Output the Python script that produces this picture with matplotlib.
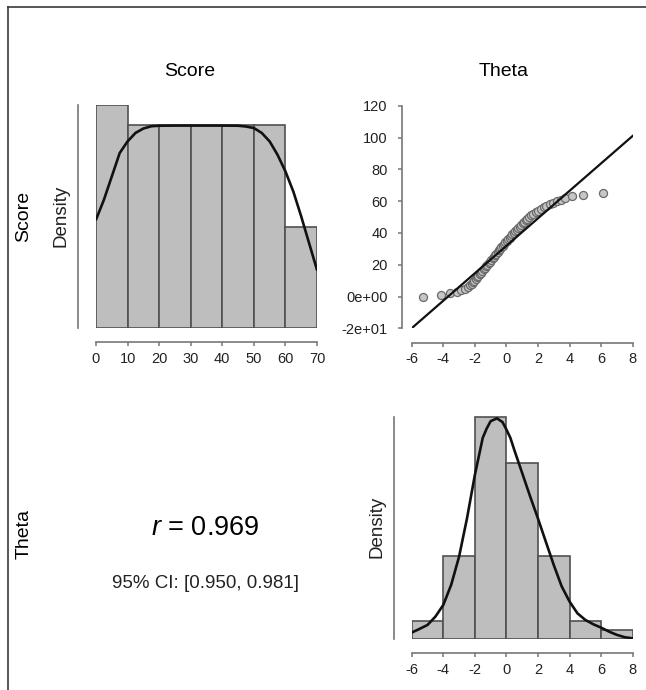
import numpy as np
import matplotlib
matplotlib.use("Agg")
import matplotlib.pyplot as plt
from matplotlib.lines import Line2D

plt.rcParams['font.family'] = ['Liberation Sans', 'DejaVu Sans']
plt.rcParams['axes.unicode_minus'] = False
plt.rcParams['mathtext.fontset'] = 'custom'
plt.rcParams['mathtext.rm'] = 'Liberation Sans'
plt.rcParams['mathtext.it'] = 'Liberation Sans:italic'

# ---------------- data ----------------
n_obs = 66
score_edges = [0, 10, 20, 30, 40, 50, 60, 70]
score_counts = [11, 10, 10, 10, 10, 10, 5]
score_curve_x = [0, 2.5, 5, 7.5, 10, 12.5, 15, 17.5, 20, 25, 30, 35, 40, 45,
                 47.5, 50, 52.5, 55, 57.5, 60, 62.5, 65, 67.5, 70]
score_curve_y = [0.00811, 0.00959, 0.01133, 0.01308, 0.01395, 0.01458, 0.01491,
                 0.01508, 0.01512, 0.01513, 0.01513, 0.01513, 0.01513, 0.01512,
                 0.01506, 0.01495, 0.01458, 0.01395, 0.01295, 0.01171, 0.01021,
                 0.00835, 0.00635, 0.00436]

theta_edges = [-6, -4, -2, 0, 2, 4, 6, 8]
theta_counts = [2, 9, 24, 19, 9, 2, 1]
theta_curve_x = [-6, -5.5, -5, -4.5, -4, -3.5, -3, -2.5, -2, -1.5, -1.25, -1, -0.6,
                 -0.25, 0, 0.25, 0.5, 1, 1.5, 2, 2.5, 3, 3.5, 4, 4.5, 5, 5.5, 6,
                 6.5, 7, 7.5, 8]
theta_curve_y = [0.0055, 0.0085, 0.0117, 0.0185, 0.0280, 0.0444, 0.0674, 0.0985,
                 0.1340, 0.1644, 0.1720, 0.1780, 0.1803, 0.1773, 0.1712, 0.1644,
                 0.1545, 0.1356, 0.1167, 0.0985, 0.0795, 0.0606, 0.0432, 0.0308,
                 0.0212, 0.0158, 0.0123, 0.0095, 0.0063, 0.0036, 0.0017, 0.0008]

score_values = [0, 1, 2, 3, 4, 5, 6, 7, 8, 9, 10, 11, 12, 13, 14, 15, 16, 17, 18,
                19, 20, 21, 22, 23, 24, 25, 26, 27, 28, 29, 30, 31, 32, 33, 34, 35,
                36, 37, 38, 39, 40, 41, 42, 43, 44, 45, 46, 47, 48, 49, 50, 51, 52,
                53, 54, 55, 56, 57, 58, 59, 60, 61, 62, 63, 64, 65]
theta_values = [-5.27, -4.14, -3.57, -3.15, -2.85, -2.62, -2.45, -2.31, -2.19, -2.10,
                -2.03, -1.95, -1.86, -1.77, -1.68, -1.60, -1.52, -1.44, -1.36, -1.28,
                -1.20, -1.12, -1.04, -0.96, -0.88, -0.80, -0.72, -0.64, -0.56, -0.48,
                -0.40, -0.32, -0.24, -0.16, -0.08, 0.02, 0.11, 0.20, 0.29, 0.38,
                0.47, 0.56, 0.65, 0.74, 0.83, 0.92, 1.02, 1.12, 1.22, 1.33,
                1.44, 1.56, 1.70, 1.85, 2.02, 2.18, 2.35, 2.53, 2.73, 2.95,
                3.18, 3.43, 3.72, 4.13, 4.87, 6.14]
fit_intercept = 31.9
fit_slope = 8.64

qq_yticks = [-20, 0, 20, 40, 60, 80, 100, 120]
qq_yticklabels = ['-2e+01', '0e+00', '20', '40', '60', '80', '100', '120']
theta_ticks = [-6, -4, -2, 0, 2, 4, 6, 8]
score_ticks = [0, 10, 20, 30, 40, 50, 60, 70]

r_text = r'$r$ = 0.969'
ci_text = '95% CI: [0.950, 0.981]'
var_names = ['Score', 'Theta']

# ---------------- layout ----------------
W, H = 646, 690
PT = 0.72  # points per pixel at dpi 100
fig = plt.figure(figsize=(W / 100, H / 100), dpi=100)


def ax_rect(left, right, top, bottom):
    return [left / W, 1 - bottom / H, (right - left) / W, (bottom - top) / H]


def fxy(x, y):
    return x / W, 1 - y / H


axis_col = '#777777'
tick_col = '#222222'
bar_fill = '#bebebe'
bar_edge = '#505050'


def style_axis(ax, left_off, bottom_off, xb, yb, left_ticks):
    for s in ['top', 'right']:
        ax.spines[s].set_visible(False)
    ax.spines['left'].set_position(('outward', left_off * PT))
    ax.spines['bottom'].set_position(('outward', bottom_off * PT))
    ax.spines['left'].set_bounds(*yb)
    ax.spines['bottom'].set_bounds(*xb)
    for s in ['left', 'bottom']:
        ax.spines[s].set_color(axis_col)
        ax.spines[s].set_linewidth(1.2)
    ax.tick_params(axis='both', direction='out', length=3.2, width=1.1,
                   color=axis_col, labelcolor=tick_col, labelsize=10.5, pad=4)
    if not left_ticks:
        ax.tick_params(axis='y', left=False, labelleft=False)
    ax.patch.set_visible(False)


def density_hist(ax, edges, counts, cx, cy):
    widths = np.diff(edges)
    dens = np.array(counts) / (n_obs * widths)
    ax.bar(edges[:-1], dens, width=widths, align='edge', color=bar_fill,
           edgecolor=bar_edge, linewidth=1.2)
    ax.plot(cx, cy, color='#111111', lw=1.9, solid_capstyle='round',
            solid_joinstyle='round')
    return dens.max()


# Top-left: Score histogram
ax1 = fig.add_axes(ax_rect(96, 317, 105, 328.3))
ymax1 = density_hist(ax1, score_edges, score_counts, score_curve_x, score_curve_y)
ax1.set_xlim(score_edges[0], score_edges[-1])
ax1.set_ylim(0, ymax1)
ax1.set_xticks(score_ticks)
style_axis(ax1, 18, 13.4, (score_edges[0], score_edges[-1]), (0, ymax1), False)

# Top-right: scatter Theta vs Score
ax2 = fig.add_axes(ax_rect(411.7, 632.7, 105.7, 328.3))
ax2.plot(theta_values, score_values, linestyle='none', marker='o', markersize=5.8,
         markerfacecolor='#c6c6c6', markeredgecolor='#6a6a6a', markeredgewidth=0.9)
ax2.axline((0, fit_intercept), slope=fit_slope, color='#111111', lw=1.6)
ax2.set_xlim(-6, 8)
ax2.set_ylim(-20, 120)
ax2.set_xticks(theta_ticks)
ax2.set_xticklabels([str(t) for t in theta_ticks])
ax2.set_yticks(qq_yticks)
ax2.set_yticklabels(qq_yticklabels)
style_axis(ax2, 10, 15, (-6, 8), (-20, 120), True)
ax2.tick_params(axis='y', pad=7)
ax2.tick_params(axis='x', pad=3)

# Bottom-right: Theta histogram
ax3 = fig.add_axes(ax_rect(411.7, 632.7, 416.5, 639.3))
ymax3 = density_hist(ax3, theta_edges, theta_counts, theta_curve_x, theta_curve_y)
ax3.set_xlim(theta_edges[0], theta_edges[-1])
ax3.set_ylim(0, ymax3)
ax3.set_xticks(theta_ticks)
ax3.set_xticklabels([str(t) for t in theta_ticks])
style_axis(ax3, 17.7, 13.4, (theta_edges[0], theta_edges[-1]), (0, ymax3), False)

# Texts
fs_lab = 14
fig.text(*fxy(190, 72), var_names[0], ha='center', va='center', fontsize=fs_lab)
fig.text(*fxy(504, 72), var_names[1], ha='center', va='center', fontsize=fs_lab)
fig.text(*fxy(24, 216), var_names[0], ha='center', va='center', fontsize=fs_lab,
         rotation=90)
fig.text(*fxy(24, 534), var_names[1], ha='center', va='center', fontsize=fs_lab,
         rotation=90)
fig.text(*fxy(61, 216), 'Density', ha='center', va='center', fontsize=13.5,
         rotation=90, color='#222222')
fig.text(*fxy(377, 527), 'Density', ha='center', va='center', fontsize=13.5,
         rotation=90, color='#222222')
fig.text(*fxy(205, 528), r_text, ha='center', va='center', fontsize=19.5)
fig.text(*fxy(205, 583), ci_text, ha='center', va='center', fontsize=13.5,
         color='#222222')

# Frame lines (left and top)
fig.add_artist(Line2D([7.5 / W, 7.5 / W], [0, 1 - 6.5 / H], transform=fig.transFigure,
                      color='#3a3a3a', lw=1.2))
fig.add_artist(Line2D([7.5 / W, 1], [1 - 6.5 / H, 1 - 6.5 / H], transform=fig.transFigure,
                      color='#3a3a3a', lw=1.2))

fig.savefig('out.png', dpi=100)
